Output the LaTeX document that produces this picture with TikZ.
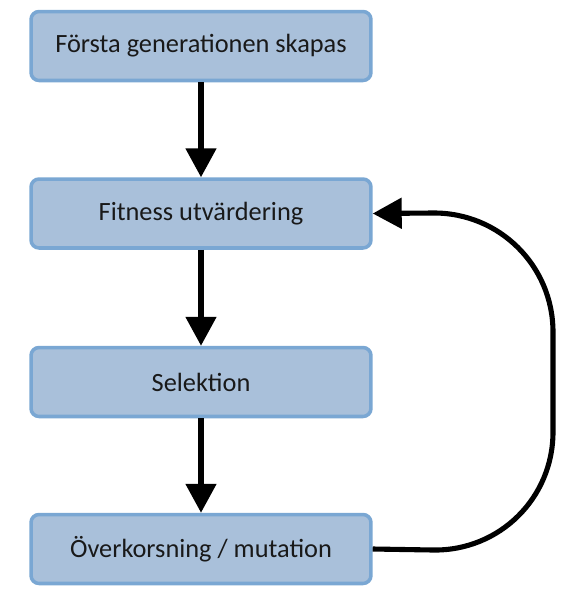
\documentclass[tikz,border=0pt]{standalone}
\usepackage{fontspec}
\setmainfont{Carlito}
\usetikzlibrary{arrows.meta}
\definecolor{boxfill}{HTML}{A9C0DA}
\definecolor{boxline}{HTML}{7AA7D3}
\tikzset{
  fase/.style={draw=boxline,fill=boxfill,line width=2pt,rounded corners=0.16cm,
    minimum width=6.8cm,minimum height=1.38cm,inner sep=0pt,
    font=\fontsize{15}{18}\selectfont,text=black!90},
  freccia/.style={line width=2.9pt,-{Triangle[length=0.58cm,width=0.6cm]}}
}
\begin{document}
\begin{tikzpicture}[x=0.02cm,y=-0.02cm]
\useasboundingbox (0,0) rectangle (575,600);

% --- Fasi dell'algoritmo ---
\node[fase] (prima) at (201,46) {Första generationen skapas};
\node[fase] (fitness) at (201,213.5) {Fitness utvärdering};
\node[fase] (selez) at (201,382) {Selektion};
\node[fase] (incrocio) at (201,549) {Överkorsning / mutation};

% Frecce verticali
\draw[freccia] (prima) -- (fitness);
\draw[freccia] (fitness) -- (selez);
\draw[freccia] (selez) -- (incrocio);

% Ritorno alla valutazione
\draw[freccia,rounded corners=2.4cm] (incrocio.east) -- (553,552) -- (553,212) -- (fitness.east);

\end{tikzpicture}
\end{document}
